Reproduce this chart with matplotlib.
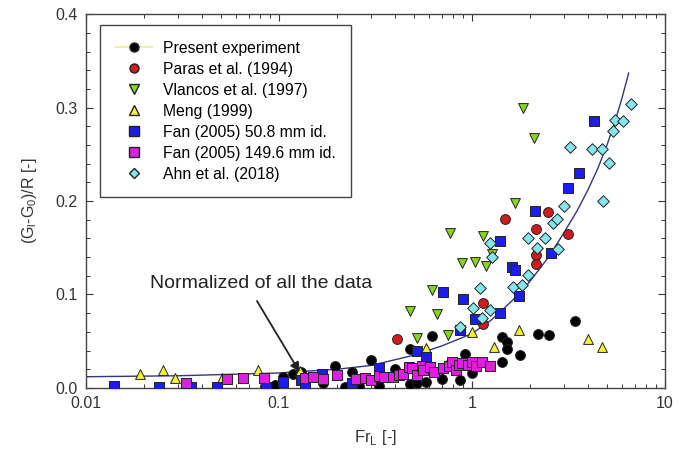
import matplotlib
matplotlib.use("Agg")
import matplotlib.pyplot as plt
from matplotlib.lines import Line2D
from matplotlib.ticker import MultipleLocator, FixedLocator, LogLocator, NullFormatter

plt.rcParams['font.family'] = ['Liberation Sans', 'DejaVu Sans']

# present experiment (black circles)
present_x = [0.088, 0.095, 0.105, 0.118, 0.13, 0.17, 0.195, 0.22, 0.24, 0.26, 0.30, 0.33,
             0.40, 0.48, 0.48, 0.52, 0.58, 0.62, 0.70, 0.75, 0.87, 0.92, 1.0, 1.43, 1.52,
             1.52, 1.43, 1.77, 2.2, 2.5, 3.42]
present_y = [0.001, 0.003, 0.012, 0.015, 0.017, 0.005, 0.024, 0.001, 0.017, 0.002, 0.030, 0.002,
             0.020, 0.004, 0.042, 0.005, 0.006, 0.056, 0.010, 0.025, 0.009, 0.036, 0.016, 0.055, 0.049,
             0.042, 0.028, 0.035, 0.058, 0.057, 0.072]

paras_x = [0.41, 1.14, 1.14, 1.48, 2.15, 2.15, 2.15, 2.48, 3.14]
paras_y = [0.052, 0.091, 0.068, 0.181, 0.170, 0.142, 0.133, 0.188, 0.165]

vlancos_x = [0.48, 0.52, 0.62, 0.66, 0.75, 0.77, 0.89, 1.04, 1.14, 1.19, 1.27, 1.67, 1.84, 2.09]
vlancos_y = [0.082, 0.053, 0.105, 0.079, 0.057, 0.166, 0.134, 0.135, 0.163, 0.130, 0.143, 0.198,
             0.300, 0.268]

meng_x = [0.019, 0.025, 0.029, 0.051, 0.078, 0.128, 0.58, 1.0, 1.30, 1.75, 4.0, 4.72]
meng_y = [0.015, 0.019, 0.011, 0.011, 0.019, 0.018, 0.043, 0.060, 0.044, 0.062, 0.052, 0.044]

fan50_x = [0.014, 0.024, 0.035, 0.048, 0.086, 0.105, 0.13, 0.136, 0.167, 0.24, 0.33, 0.52, 0.58,
           0.71, 0.87, 0.90, 1.04, 1.40, 1.40, 1.61, 1.67, 1.75, 2.12, 2.57, 3.14, 3.58, 4.29]
fan50_y = [0.002, 0.001, 0.001, 0.001, 0.001, 0.006, 0.008, 0.002, 0.015, 0.005, 0.021, 0.039, 0.033,
           0.103, 0.062, 0.095, 0.074, 0.080, 0.157, 0.129, 0.126, 0.098, 0.189, 0.144, 0.214, 0.230,
           0.286]

fan150_x = [0.033, 0.054, 0.065, 0.084, 0.136, 0.15, 0.17, 0.20, 0.25, 0.28, 0.30, 0.33, 0.35, 0.39,
            0.42, 0.44, 0.47, 0.49, 0.52, 0.55, 0.56, 0.61, 0.64, 0.71, 0.76, 0.79, 0.83, 0.86,
            0.89, 0.95, 1.0, 1.05, 1.13, 1.24]
fan150_y = [0.005, 0.010, 0.011, 0.011, 0.011, 0.012, 0.010, 0.014, 0.010, 0.011, 0.008, 0.013,
            0.012, 0.012, 0.014, 0.015, 0.022, 0.021, 0.014, 0.023, 0.019, 0.022, 0.017, 0.021,
            0.023, 0.028, 0.019, 0.025, 0.027, 0.025, 0.028, 0.024, 0.028, 0.024]

ahn_x = [0.87, 1.01, 1.10, 1.13, 1.24, 1.24, 1.27, 1.63, 1.82, 1.95, 1.95, 2.17, 2.39, 2.63, 2.76,
         2.79, 3.0, 3.22, 4.19, 4.72, 4.77, 5.13, 5.38, 5.5, 6.05, 6.67]
ahn_y = [0.065, 0.086, 0.107, 0.075, 0.083, 0.155, 0.140, 0.108, 0.110, 0.121, 0.161, 0.150, 0.161,
         0.176, 0.181, 0.149, 0.195, 0.258, 0.256, 0.256, 0.200, 0.241, 0.275, 0.287, 0.286, 0.304]

# correlation curve
fit_x = [0.01, 0.03, 0.1, 0.2, 0.3, 0.5, 0.7, 1.0, 1.25, 1.5, 1.75, 2.0, 2.5, 3.0, 3.5, 4.0,
         4.5, 5.0, 5.5, 6.0, 6.5]
fit_y = [0.012, 0.013, 0.016, 0.020, 0.024, 0.035, 0.045, 0.058, 0.072, 0.087, 0.100, 0.114,
         0.140, 0.166, 0.189, 0.212, 0.235, 0.259, 0.284, 0.310, 0.337]

fig = plt.figure(figsize=(6.99, 4.58), dpi=100)
ax = fig.add_axes([0.123, 0.153, 0.828, 0.816])

ax.plot(fit_x, fit_y, color='#35357f', lw=1.0, zorder=2)

ms = 50
series = [
    (present_x, present_y, 'o', '#000000', 'Present experiment'),
    (paras_x, paras_y, 'o', '#d01c1c', 'Paras et al. (1994)'),
    (vlancos_x, vlancos_y, 'v', '#86d61e', 'Vlancos et al. (1997)'),
    (meng_x, meng_y, '^', '#f4f430', 'Meng (1999)'),
    (fan50_x, fan50_y, 's', '#1c1cf0', 'Fan (2005) 50.8 mm id.'),
    (fan150_x, fan150_y, 's', '#e01ee0', 'Fan (2005) 149.6 mm id.'),
    (ahn_x, ahn_y, 'D', '#86e6ee', 'Ahn et al. (2018)'),
]
handles = []
for xs, ys, mk, col, lab in series:
    size = ms * 0.7 if mk == 'D' else ms
    ax.scatter(xs, ys, s=size, marker=mk, facecolor=col, edgecolor='#222222', linewidth=0.7,
               zorder=3)
    if lab == 'Present experiment':
        h = Line2D([], [], color='#f0f0a0', lw=1.5, marker=mk, markersize=6.5,
                   markerfacecolor=col, markeredgecolor='#222222', label=lab)
    else:
        h = Line2D([], [], ls='none', marker=mk, markersize=6.5 if mk != 'D' else 5.5,
                   markerfacecolor=col, markeredgecolor='#222222', label=lab)
    handles.append(h)

leg = ax.legend(handles=handles, loc='upper left', bbox_to_anchor=(0.024, 0.971), fontsize=11.3,
                frameon=True, fancybox=False, edgecolor='#444444', framealpha=1,
                borderaxespad=0, handlelength=2.3, borderpad=1.0, labelspacing=0.38,
                handletextpad=0.7)
leg.get_frame().set_linewidth(1.0)

ax.text(0.0215, 0.112, 'Normalized of all the data', fontsize=14, color='#222222',
        va='center', ha='left')
ax.annotate('', xy=(0.128, 0.017), xytext=(0.077, 0.093),
            arrowprops=dict(arrowstyle='-|>', color='#222222', lw=1.3,
                            shrinkA=0, shrinkB=0, mutation_scale=14))

ax.set_xscale('log')
ax.set_xlim(0.01, 10)
ax.set_ylim(0, 0.4)
ax.yaxis.set_major_locator(FixedLocator([0.0, 0.1, 0.2, 0.3, 0.4]))
ax.yaxis.set_minor_locator(MultipleLocator(0.02))
ax.set_yticklabels(['0.0', '0.1', '0.2', '0.3', '0.4'])
ax.xaxis.set_major_locator(FixedLocator([0.01, 0.1, 1, 10]))
ax.set_xticklabels(['0.01', '0.1', '1', '10'])
ax.xaxis.set_minor_locator(LogLocator(base=10, subs=range(2, 10)))
ax.xaxis.set_minor_formatter(NullFormatter())

ax.tick_params(which='both', direction='in', top=True, right=True, colors='#333333',
               labelcolor='#333333', labelsize=11.5)
ax.tick_params(which='major', length=5, width=0.8, pad=6)
ax.tick_params(which='minor', length=3, width=0.7)
for sp in ax.spines.values():
    sp.set_color('#444444')
    sp.set_linewidth(1.0)

ax.set_xlabel('Fr$_\\mathregular{L}$ [-]', fontsize=12, color='#333333', labelpad=12)
ax.set_ylabel('(G$_\\mathregular{l}$-G$_\\mathregular{0}$)/R [-]', fontsize=11.5, color='#333333',
              labelpad=12)

fig.savefig('out.png', dpi=100)
